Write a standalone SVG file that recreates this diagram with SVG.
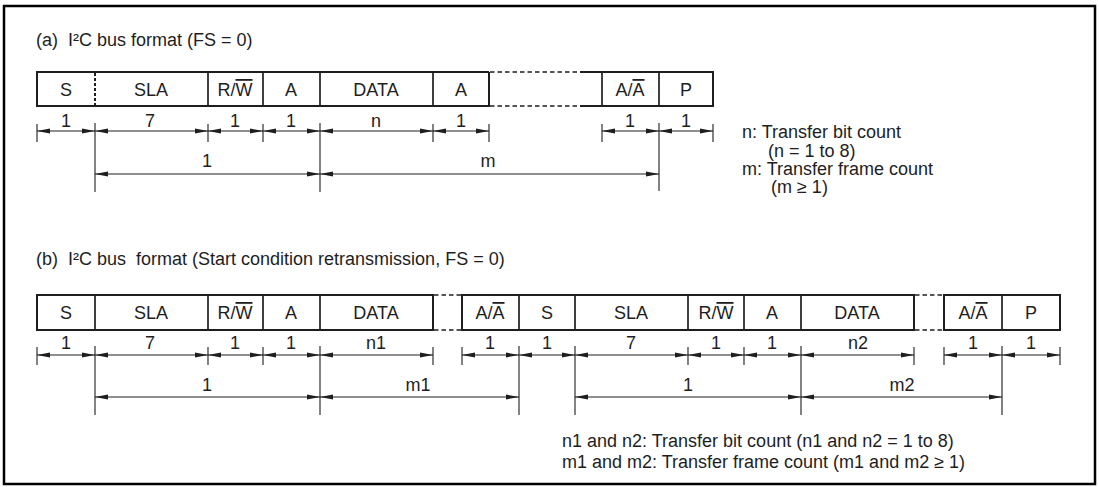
<svg xmlns="http://www.w3.org/2000/svg" width="1099" height="487" viewBox="0 0 1099 487">
<style>
text{font-family:"Liberation Sans",Arial,sans-serif;font-size:18px;fill:#1e1e1e}
.c{text-anchor:middle}
.ov{text-decoration:overline}
.frame{fill:none;stroke:#1e1e1e;stroke-width:2}
.div{stroke:#1e1e1e;stroke-width:1.7}
.dot{stroke:#1e1e1e;stroke-width:2;stroke-dasharray:3 2}
.gap{stroke:#1e1e1e;stroke-width:1.3;stroke-dasharray:4.5 3}
.tk{stroke:#1e1e1e;stroke-width:1.1}
.dim{stroke:#1e1e1e;stroke-width:1.1;marker-start:url(#ah);marker-end:url(#ah)}
</style>
<defs>
<marker id="ah" markerUnits="userSpaceOnUse" markerWidth="14" markerHeight="6" refX="13" refY="3" orient="auto-start-reverse">
<path d="M0,0.5 L13,3 L0,5.5 z" fill="#1e1e1e"/>
</marker>
</defs>
<rect x="4" y="6" width="1091" height="478" fill="#fff" stroke="#000" stroke-width="2.5"/>

<text x="36" y="46" xml:space="preserve">(a)  I²C bus format (FS = 0)</text>
<text x="36" y="265" xml:space="preserve">(b)  I²C bus  format (Start condition retransmission, FS = 0)</text>

<!-- Row (a) -->
<g id="row-a">
<g id="a-frame">
<path class="frame" d="M489,72 H37 V106 H489 V72"/>
<path class="gap" d="M490,72 H580 M490,106 H580"/>
<path class="frame" d="M580,72 H713 V106 H580"/>
</g>
<g id="a-S"><text class="c" x="66" y="96">S</text></g>
<g id="a-SLA"><line class="dot" x1="95" y1="73" x2="95" y2="105"/><text class="c" x="151" y="96">SLA</text></g>
<g id="a-RW"><line class="div" x1="208" y1="72" x2="208" y2="106"/><text class="c" x="235" y="96">R/<tspan class="ov">W</tspan></text></g>
<g id="a-A1"><line class="div" x1="263" y1="72" x2="263" y2="106"/><text class="c" x="291" y="96">A</text></g>
<g id="a-DATA"><line class="div" x1="320" y1="72" x2="320" y2="106"/><text class="c" x="376" y="96">DATA</text></g>
<g id="a-A2"><line class="div" x1="433" y1="72" x2="433" y2="106"/><text class="c" x="461" y="96">A</text></g>
<g id="a-AA"><line class="div" x1="602" y1="72" x2="602" y2="106"/><text class="c" x="630" y="96">A/<tspan class="ov">A</tspan></text></g>
<g id="a-P"><line class="div" x1="659" y1="72" x2="659" y2="106"/><text class="c" x="686" y="96">P</text></g>
</g>

<!-- Row (b) -->
<g id="row-b">
<g id="b-frame">
<path class="frame" d="M37,295 H433 V330 H37 Z"/>
<path class="gap" d="M434,295 H462 M434,330 H462 M915,295 H944 M915,330 H944"/>
<path class="frame" d="M462,295 H914 V330 H462 Z"/>
<path class="frame" d="M944,295 H1060 V330 H944 Z"/>
</g>
<g id="b-S1"><text class="c" x="66" y="319">S</text></g>
<g id="b-SLA1"><line class="div" x1="95" y1="295" x2="95" y2="330"/><text class="c" x="151" y="319">SLA</text></g>
<g id="b-RW1"><line class="div" x1="208" y1="295" x2="208" y2="330"/><text class="c" x="235" y="319">R/<tspan class="ov">W</tspan></text></g>
<g id="b-A1"><line class="div" x1="263" y1="295" x2="263" y2="330"/><text class="c" x="291" y="319">A</text></g>
<g id="b-DATA1"><line class="div" x1="320" y1="295" x2="320" y2="330"/><text class="c" x="376" y="319">DATA</text></g>
<g id="b-AA1"><text class="c" x="490" y="319">A/<tspan class="ov">A</tspan></text></g>
<g id="b-S2"><line class="div" x1="519" y1="295" x2="519" y2="330"/><text class="c" x="547" y="319">S</text></g>
<g id="b-SLA2"><line class="div" x1="575" y1="295" x2="575" y2="330"/><text class="c" x="631" y="319">SLA</text></g>
<g id="b-RW2"><line class="div" x1="688" y1="295" x2="688" y2="330"/><text class="c" x="716" y="319">R/<tspan class="ov">W</tspan></text></g>
<g id="b-A2"><line class="div" x1="744" y1="295" x2="744" y2="330"/><text class="c" x="772" y="319">A</text></g>
<g id="b-DATA2"><line class="div" x1="801" y1="295" x2="801" y2="330"/><text class="c" x="857" y="319">DATA</text></g>
<g id="b-AA2"><text class="c" x="973" y="319">A/<tspan class="ov">A</tspan></text></g>
<g id="b-P"><line class="div" x1="1002" y1="295" x2="1002" y2="330"/><text class="c" x="1031" y="319">P</text></g>
</g>

<!-- Dimension connectors -->
<g id="connectors">
<path class="tk" d="M37,124 V142 M208,124 V142 M263,124 V142 M433,124 V142 M489,124 V142 M602,124 V142 M713,124 V142 M95,123 V192 M320,123 V192 M659,123 V191"/>
<line class="dim" x1="37" y1="131" x2="95" y2="131"/>
<line class="dim" x1="95" y1="131" x2="208" y2="131"/>
<line class="dim" x1="208" y1="131" x2="263" y2="131"/>
<line class="dim" x1="263" y1="131" x2="320" y2="131"/>
<line class="dim" x1="320" y1="131" x2="433" y2="131"/>
<line class="dim" x1="433" y1="131" x2="489" y2="131"/>
<line class="dim" x1="602" y1="131" x2="659" y2="131"/>
<line class="dim" x1="659" y1="131" x2="713" y2="131"/>
<line class="dim" x1="95" y1="174" x2="320" y2="174"/>
<line class="dim" x1="320" y1="174" x2="659" y2="174"/>
<path class="tk" d="M37,347 V365 M208,347 V365 M263,347 V365 M433,347 V365 M462,347 V365 M688,347 V365 M744,347 V365 M914,347 V365 M944,347 V365 M1060,347 V365 M95,346 V415 M320,346 V415 M519,346 V415 M575,346 V415 M801,346 V415 M1002,346 V415"/>
<line class="dim" x1="37" y1="355" x2="95" y2="355"/>
<line class="dim" x1="95" y1="355" x2="208" y2="355"/>
<line class="dim" x1="208" y1="355" x2="263" y2="355"/>
<line class="dim" x1="263" y1="355" x2="320" y2="355"/>
<line class="dim" x1="320" y1="355" x2="433" y2="355"/>
<line class="dim" x1="462" y1="355" x2="519" y2="355"/>
<line class="dim" x1="519" y1="355" x2="575" y2="355"/>
<line class="dim" x1="575" y1="355" x2="688" y2="355"/>
<line class="dim" x1="688" y1="355" x2="744" y2="355"/>
<line class="dim" x1="744" y1="355" x2="801" y2="355"/>
<line class="dim" x1="801" y1="355" x2="914" y2="355"/>
<line class="dim" x1="944" y1="355" x2="1002" y2="355"/>
<line class="dim" x1="1002" y1="355" x2="1060" y2="355"/>
<line class="dim" x1="95" y1="397" x2="320" y2="397"/>
<line class="dim" x1="320" y1="397" x2="519" y2="397"/>
<line class="dim" x1="575" y1="397" x2="801" y2="397"/>
<line class="dim" x1="801" y1="397" x2="1002" y2="397"/>
</g>

<g id="dim-labels-a">
<text class="c" x="66" y="127">1</text>
<text class="c" x="150" y="127">7</text>
<text class="c" x="235" y="127">1</text>
<text class="c" x="291" y="127">1</text>
<text class="c" x="376" y="127">n</text>
<text class="c" x="461" y="127">1</text>
<text class="c" x="630" y="127">1</text>
<text class="c" x="686" y="127">1</text>
<text class="c" x="207" y="167">1</text>
<text class="c" x="488" y="167">m</text>
</g>
<g id="dim-labels-b">
<text class="c" x="66" y="349">1</text>
<text class="c" x="150" y="349">7</text>
<text class="c" x="235" y="349">1</text>
<text class="c" x="291" y="349">1</text>
<text class="c" x="376" y="349">n1</text>
<text class="c" x="490" y="349">1</text>
<text class="c" x="547" y="349">1</text>
<text class="c" x="631" y="349">7</text>
<text class="c" x="716" y="349">1</text>
<text class="c" x="772" y="349">1</text>
<text class="c" x="858" y="349">n2</text>
<text class="c" x="973" y="349">1</text>
<text class="c" x="1031" y="349">1</text>
<text class="c" x="207" y="391">1</text>
<text class="c" x="418" y="391">m1</text>
<text class="c" x="688" y="391">1</text>
<text class="c" x="902" y="391">m2</text>
</g>

<g id="notes-a">
<text x="742" y="138">n: Transfer bit count</text>
<text x="768" y="157">(n = 1 to 8)</text>
<text x="742" y="175">m: Transfer frame count</text>
<text x="771" y="193">(m ≥ 1)</text>
</g>
<g id="notes-b">
<text x="562" y="447">n1 and n2: Transfer bit count (n1 and n2 = 1 to 8)</text>
<text x="562" y="468">m1 and m2: Transfer frame count (m1 and m2 ≥ 1)</text>
</g>
</svg>
